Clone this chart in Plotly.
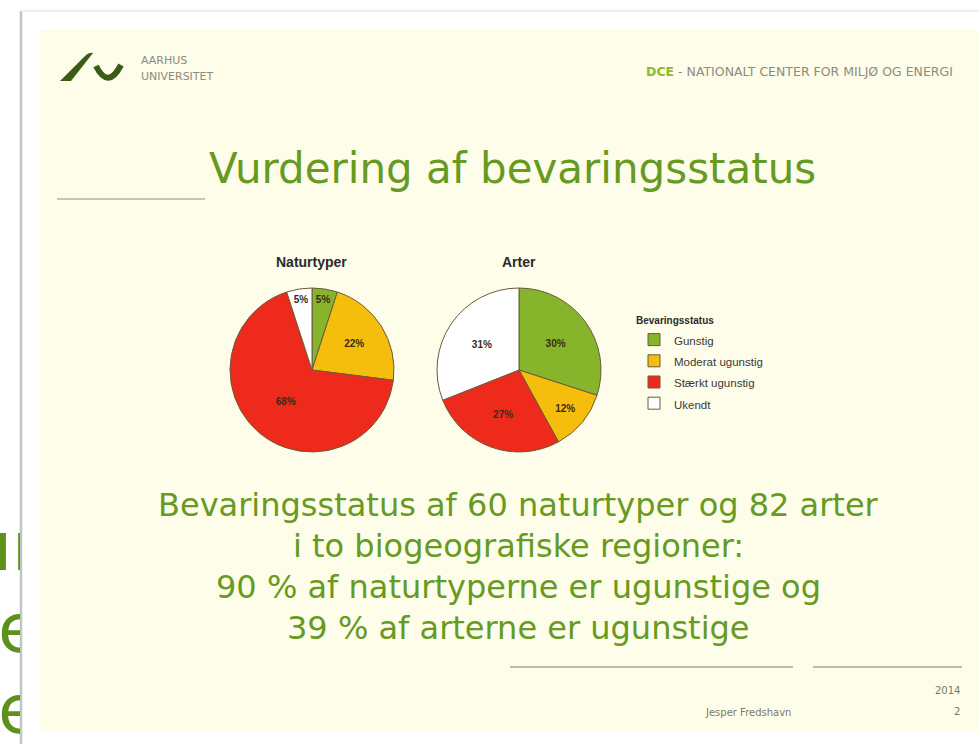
import plotly.graph_objects as go

W, H = 979, 744
def X(px): return px / W
def Y(py): return 1 - py / H

# ---------------- data ----------------
categories = ["Gunstig", "Moderat ugunstig", "Stærkt ugunstig", "Ukendt"]
naturtyper_pct = [5, 22, 68, 5]
arter_pct = [30, 12, 27, 31]
colors = ["#86b52c", "#f6be0c", "#ee2a1c", "#ffffff"]

title_text = "Vurdering af bevaringsstatus"
body_lines = [
    "Bevaringsstatus af 60 naturtyper og 82 arter",
    "i to biogeografiske regioner:",
    "90 % af naturtyperne er ugunstige og",
    "39 % af arterne er ugunstige",
]
GREEN = "#679a22"
FONT = "DejaVu Sans"

fig = go.Figure()

legend_labels = [f"<span style='font-size:11.5px'>{c}</span>" for c in categories]

pie_common = dict(
    labels=legend_labels,
    marker=dict(colors=colors, line=dict(color="#6b5a3a", width=1)),
    sort=False, direction="clockwise", rotation=0,
    textposition="inside", insidetextorientation="horizontal",
    texttemplate="<b>%{value}%</b>",
    textfont=dict(family="Liberation Sans", size=10, color="#3a2a18"),
    hoverinfo="skip",
)
fig.add_trace(go.Pie(values=naturtyper_pct, name="Naturtyper",
                     domain=dict(x=[X(230), X(394)], y=[Y(452), Y(288)]),
                     showlegend=True, **pie_common))
fig.add_trace(go.Pie(values=arter_pct, name="Arter",
                     domain=dict(x=[X(437), X(601)], y=[Y(452), Y(288)]),
                     showlegend=False, **pie_common))

# clipped text at left edge (previous slide behind)
edge_text = ["ur", "e", "e"]
edge_x = [-31, -2, -2]
edge_y = [553, 635, 716]
fig.add_trace(go.Scatter(x=edge_x, y=edge_y, text=edge_text, mode="text",
                         textposition="middle right", cliponaxis=True,
                         textfont=dict(family=FONT, size=68, color="#5e911c"),
                         showlegend=False, hoverinfo="skip",
                         xaxis="x", yaxis="y"))

shapes = []
def rect(x0, y0, x1, y1, fill):
    shapes.append(dict(type="rect", xref="paper", yref="paper", layer="below",
                       x0=X(x0), x1=X(x1), y0=Y(y1), y1=Y(y0),
                       fillcolor=fill, line=dict(width=0)))
def hline(x0, x1, y, color, w=1.5):
    shapes.append(dict(type="line", xref="paper", yref="paper", layer="below",
                       x0=X(x0), x1=X(x1), y0=Y(y), y1=Y(y),
                       line=dict(color=color, width=w)))
def vline(x, y0, y1, color, w=1.5):
    shapes.append(dict(type="line", xref="paper", yref="paper", layer="below",
                       x0=X(x), x1=X(x), y0=Y(y0), y1=Y(y1),
                       line=dict(color=color, width=w)))

rect(21, 11, 979, 744, "#ffffff")
vline(21, 11, 744, "#c4c4c4", 2.5)
hline(21, 979, 11, "#e8e8e8", 1.5)
rect(40, 30, 979, 731, "#fdfdea")
hline(57, 205, 199, "#b5b593", 1.5)
hline(510, 793, 667, "#a8a888", 1.5)
hline(813, 962, 667, "#a8a888", 1.5)

def path(pts):
    s = ""
    for cmd, coords in pts:
        s += cmd + " " + " ".join(f"{X(a):.5f},{Y(b):.5f}" for a, b in coords) + " "
    return s + "Z"
# logo slash
shapes.append(dict(type="path", xref="paper", yref="paper", layer="below",
                   path=path([("M", [(60, 81)]), ("L", [(85, 56)]),
                              ("Q", [(89, 52), (93, 53)]), ("L", [(71, 81)])]),
                   fillcolor="#3b5c16", line=dict(width=0)))
# logo u
shapes.append(dict(type="path", xref="paper", yref="paper", layer="below",
                   path=f"M {X(96):.5f},{Y(66):.5f} Q {X(108):.5f},{Y(90):.5f} {X(121):.5f},{Y(65):.5f}",
                   fillcolor="rgba(0,0,0,0)", line=dict(color="#3b5c16", width=6)))

ann = []
def text(x, y, s, size, color, xanchor="center", family=FONT):
    ann.append(dict(x=X(x), y=Y(y), xref="paper", yref="paper", text=s,
                    showarrow=False, xanchor=xanchor, yanchor="middle",
                    font=dict(family=family, size=size, color=color)))

text(139, 60, "AARHUS", 11, "#8c8c7c", "left")
text(139, 76, "UNIVERSITET", 11, "#8c8c7c", "left")
text(955, 71, "<span style='color:#8dbb2a'><b>DCE</b></span> - NATIONALT CENTER FOR MILJØ OG ENERGI",
     12.5, "#8c8c7c", "right")
text(512, 168, title_text, 42, GREEN)
text(311, 262, "<b>Naturtyper</b>", 14, "#2a2a2a", family="Liberation Sans")
text(519, 262, "<b>Arter</b>", 14, "#2a2a2a", family="Liberation Sans")
for i, line in enumerate(body_lines):
    text(518, 505 + 41 * i, line, 32, GREEN)
text(793, 712, "Jesper Fredshavn", 10, "#7a7a68", "right")
text(962, 690, "2014", 10, "#7a7a68", "right")
text(962, 711, "2", 10, "#7a7a68", "right")

fig.update_layout(
    width=W, height=H, margin=dict(l=0, r=0, t=0, b=0),
    paper_bgcolor="#ffffff", plot_bgcolor="rgba(0,0,0,0)",
    xaxis=dict(domain=[0, X(20)], range=[0, 20], visible=False, fixedrange=True),
    yaxis=dict(domain=[0, 1], range=[744, 0], visible=False, fixedrange=True),
    shapes=shapes, annotations=ann,
    legend=dict(x=X(634), y=Y(311), xanchor="left", yanchor="top",
                bgcolor="rgba(0,0,0,0)",
                title=dict(text="<b>Bevaringsstatus</b>",
                           font=dict(family="Liberation Sans", size=10, color="#2a2a2a")),
                font=dict(family="Liberation Sans", size=14, color="#3a3a3a"),
                tracegroupgap=0),
    showlegend=True,
)

fig.write_html("out.html", config={"displayModeBar": False},
               post_script="document.body.style.margin='0';")
